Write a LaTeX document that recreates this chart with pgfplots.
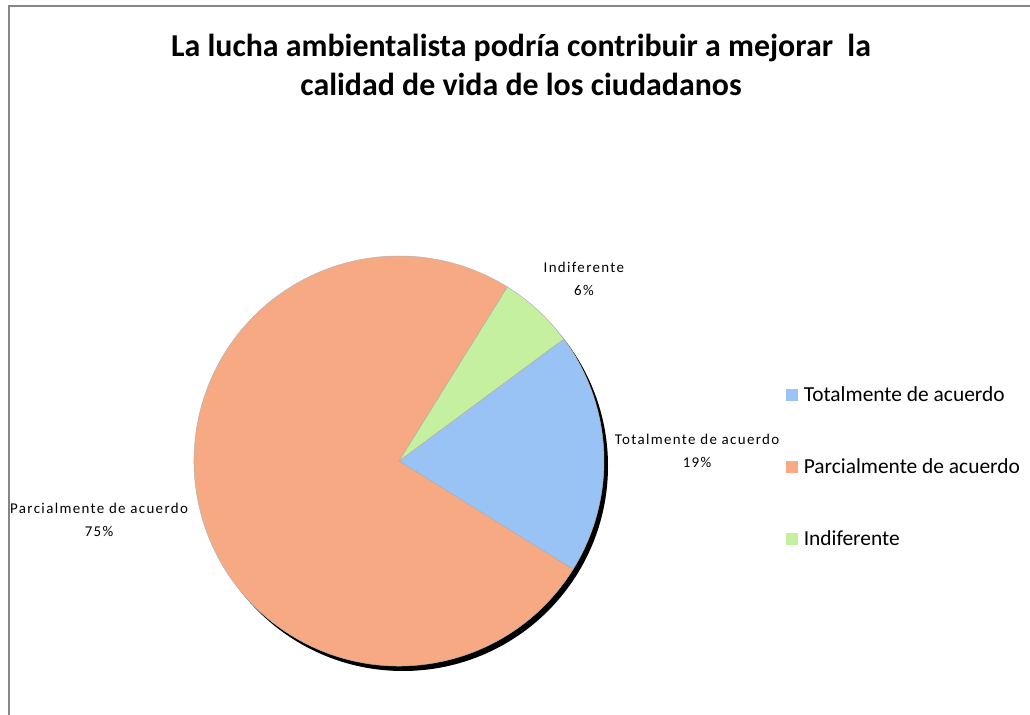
\documentclass[border=0pt]{standalone}
\usepackage{fontspec}
\setmainfont{Carlito}
\newfontfamily\lblfont[LetterSpace=9]{Carlito}
\usepackage{pgfplots}
\usepackage{pgfplotstable}
\pgfplotsset{compat=1.18}
\definecolor{slice0}{RGB}{153,194,245}
\definecolor{slice1}{RGB}{247,169,131}
\definecolor{slice2}{RGB}{196,240,160}
\definecolor{framegray}{RGB}{134,134,134}
\pgfplotstableread{
value label
19 Totalmente
75 Parcialmente
6 Indiferente
}\piedata
\begin{document}
\begin{tikzpicture}
\useasboundingbox (0,0) rectangle (1030bp,715bp);
\fill[white] (0,0) rectangle (1030bp,715bp);
\draw[framegray, line width=2bp] (8.5bp,0) -- (8.5bp,708.5bp) -- (1030bp,708.5bp);
\node[font=\fontsize{32}{40}\selectfont\bfseries, align=center] at (521bp,650bp)
  {La lucha ambientalista podría contribuir a mejorar\ \ la\\calidad de vida de los ciudadanos};
\begin{axis}[
  at={(399bp,254bp)}, anchor=center,
  width=410bp, height=410bp, scale only axis,
  xmin=-1, xmax=1, ymin=-1, ymax=1,
  hide axis, clip=false,
  legend style={draw=none, fill=none, at={(1.437,0.692)}, anchor=north west,
    font=\fontsize{21.5}{24}\selectfont, row sep=51.5bp},
  legend cell align=left,
]
\fill[black] ([shift={(4bp,-5bp)}]axis cs:0,0) circle[radius=205bp];
\def\startang{36.5}
\pgfplotsforeachungrouped \i in {0,1,2}{%
  \pgfplotstablegetelem{\i}{value}\of\piedata
  \pgfmathsetmacro\endang{\startang-3.6*\pgfplotsretval}%
  \edef\temp{\noexpand\fill[slice\i, draw=gray!60, line width=0.5bp] (axis cs:0,0) -- ([shift={(\startang:205bp)}]axis cs:0,0) arc[start angle=\startang, end angle=\endang, radius=205bp] -- cycle;}%
  \temp
  \let\startang\endang
}
\node[font=\lblfont\fontsize{15}{23}\selectfont, align=center] at (axis cs:0.902,0.888) {Indiferente\\6\%};
\node[font=\lblfont\fontsize{15}{23}\selectfont, align=center] at (axis cs:1.454,0.049) {Totalmente de acuerdo\\19\%};
\node[font=\lblfont\fontsize{15}{23}\selectfont, align=center] at (axis cs:-1.463,-0.288) {Parcialmente de acuerdo\\75\%};
\addlegendimage{legend image code/.code={\fill[slice0] (0bp,-5.5bp) rectangle (11bp,5.5bp);}}
\addlegendentry{\hspace{4bp}Totalmente de acuerdo}
\addlegendimage{legend image code/.code={\fill[slice1] (0bp,-5.5bp) rectangle (11bp,5.5bp);}}
\addlegendentry{\hspace{4bp}Parcialmente de acuerdo}
\addlegendimage{legend image code/.code={\fill[slice2] (0bp,-5.5bp) rectangle (11bp,5.5bp);}}
\addlegendentry{\hspace{4bp}Indiferente}
\end{axis}
\end{tikzpicture}
\end{document}
